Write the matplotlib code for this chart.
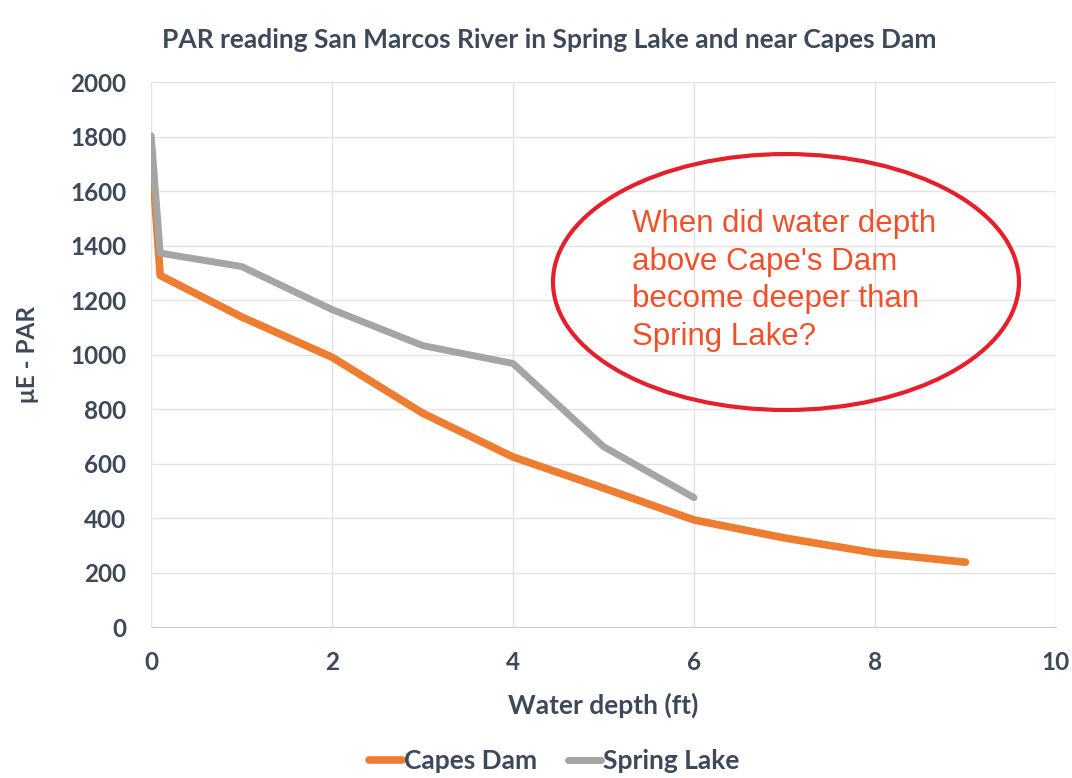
import matplotlib
matplotlib.use("Agg")
import matplotlib.pyplot as plt
from matplotlib.patches import Ellipse

# data
capes_depth = [0, 0.1, 1, 2, 3, 4, 5, 6, 7, 8, 9]
capes_par = [1760, 1290, 1138, 990, 785, 624, 510, 393, 327, 272, 238]
spring_depth = [0, 0.1, 1, 2, 3, 4, 5, 6]
spring_par = [1803, 1372, 1323, 1165, 1033, 967, 662, 475]

TXT = "#3d4858"
FONT = "Lato"

fig = plt.figure(figsize=(10.72, 7.78), dpi=100)
ax = fig.add_axes([0.141, 0.194, 0.844, 0.7006])

ax.plot(capes_depth, capes_par, color="#ed7d31", lw=5.5,
        solid_capstyle="round", solid_joinstyle="round", label="Capes Dam")
ax.plot(spring_depth, spring_par, color="#a5a5a5", lw=5,
        solid_capstyle="round", solid_joinstyle="round", label="Spring Lake")

ax.set_xlim(0, 10)
ax.set_ylim(0, 2000)
ax.set_xticks(range(0, 11, 2))
ax.set_yticks(range(0, 2001, 200))
ax.grid(True, color="#e3e3e3", lw=1)
ax.set_axisbelow(True)
for s in ["top", "right", "left"]:
    ax.spines[s].set_visible(False)
ax.spines["bottom"].set_color("#d0d0d0")
ax.tick_params(axis="y", length=0, pad=18, labelsize=17.5, labelcolor=TXT)
ax.tick_params(axis="x", length=0, pad=17, labelsize=17.5, labelcolor=TXT)
for lab in ax.get_xticklabels() + ax.get_yticklabels():
    lab.set_fontweight("bold")
    lab.set_family(FONT)

ax.set_xlabel("Water depth (ft)", fontsize=19, color=TXT, fontweight="bold",
              family=FONT, labelpad=14)
ax.set_ylabel("μE - PAR", fontsize=17.5, color=TXT, fontweight="bold",
              family=FONT, labelpad=22)
fig.text(0.512, 0.949, "PAR reading San Marcos River in Spring Lake and near Capes Dam",
         ha="center", va="center", fontsize=19, color=TXT, fontweight="bold",
         family=FONT)

leg = fig.legend(loc="center", bbox_to_anchor=(0.517, 0.022), ncol=2,
                 frameon=False, handlelength=1.25, handletextpad=0.05,
                 columnspacing=1.2, prop={"family": FONT, "weight": "bold", "size": 19})
for t in leg.get_texts():
    t.set_color(TXT)

# annotation ellipse and question
ell = Ellipse((0.7332, 0.6375), 0.4347, 0.329, transform=fig.transFigure,
              facecolor="none", edgecolor="#e5202a", lw=3)
fig.patches.append(ell)
fig.text(0.59, 0.731,
         "When did water depth\nabove Cape's Dam\nbecome deeper than\nSpring Lake?",
         ha="left", va="top", fontsize=22.5, color="#f0512a",
         family="Liberation Sans", linespacing=1.33)

fig.savefig("out.png", dpi=100, facecolor="white")
